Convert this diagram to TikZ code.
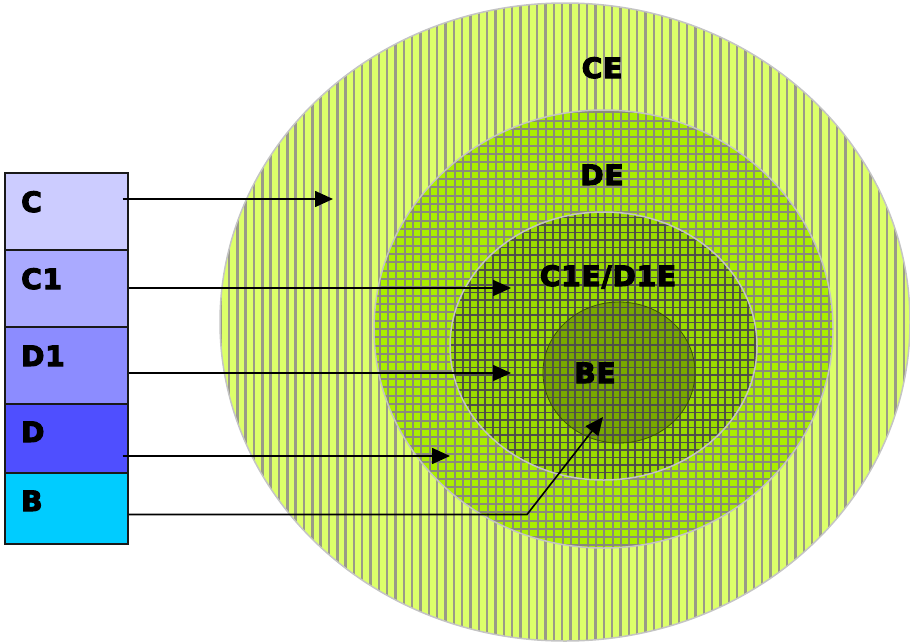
\documentclass[tikz,border=0pt]{standalone}
\usepackage{fontspec}
\setmainfont{DejaVu Sans}
\newfontfamily\lblfont{DejaVu Sans}[BoldFeatures={FakeBold=4},LetterSpace=3]
\usetikzlibrary{arrows.meta,calc}
\definecolor{cefill}{HTML}{DCFF6A}
\definecolor{cestripe}{HTML}{9A9A88}
\definecolor{defill}{HTML}{AAEE00}
\definecolor{degrid}{HTML}{8A8A7A}
\definecolor{c1fill}{HTML}{9ADC00}
\definecolor{c1grid}{HTML}{505048}
\definecolor{befill}{HTML}{78A800}
\definecolor{ringcol}{HTML}{C4C4C4}
\definecolor{colC}{HTML}{CCCCFF}
\definecolor{colCone}{HTML}{AAAAFF}
\definecolor{colDone}{HTML}{8C8CFF}
\definecolor{colD}{HTML}{4F4FFF}
\definecolor{colB}{HTML}{00CCFF}
\begin{document}
\begin{tikzpicture}[x=1pt,y=-1pt,
  box/.style={draw=black!90,line width=1.2pt,minimum width=123pt,inner sep=0pt},
  lbl/.style={font=\lblfont\bfseries\fontsize{28}{30}\selectfont,inner sep=0pt,text=black},
  ring/.style={draw=ringcol,line width=1.5pt},
  conn/.style={draw=black,line width=1.6pt,-{Triangle[length=18pt,width=16pt]}}]
\useasboundingbox (0,0) rectangle (910,643);
% CE
\begin{scope}
\clip (565,322) ellipse [x radius=345pt, y radius=319pt];
\fill[cefill] (565,322) ellipse [x radius=345pt, y radius=319pt];
\foreach \i in {-1,...,84} \fill[cestripe] ({254+(\i-4)*8.33-1.2},0) rectangle ++(2.4,643);
\end{scope}
\draw[ring] (565,322) ellipse [x radius=345pt, y radius=319pt];
% DE
\begin{scope}
\clip (603.5,329) ellipse [x radius=229.5pt, y radius=219pt];
\fill[defill] (603.5,329) ellipse [x radius=229.5pt, y radius=219pt];
\foreach \i in {0,...,57} \draw[degrid,line width=2pt] ({371.2+\i*8.33},100) -- ++(0,460);
\foreach \i in {0,...,55} \draw[degrid,line width=2pt] (370,{104+\i*8.33}) -- ++(470,0);
\end{scope}
\draw[ring] (603.5,329) ellipse [x radius=229.5pt, y radius=219pt];
% C1E and BE
\begin{scope}
\clip (603.5,346) ellipse [x radius=153.5pt, y radius=134pt];
\fill[c1fill] (603.5,346) ellipse [x radius=153.5pt, y radius=134pt];
\fill[befill] (619,372.5) ellipse [x radius=76pt, y radius=70.5pt];
\foreach \i in {0,...,43} \draw[c1grid,line width=1.8pt] ({447.7+\i*7.5},205) -- ++(0,285);
\foreach \i in {0,...,38} \draw[c1grid,line width=1.8pt] (445,{210+\i*7.5}) -- ++(320,0);
\end{scope}
\draw[draw=black!50!befill,line width=0.8pt] (619,372.5) ellipse [x radius=76pt, y radius=70.5pt];
\draw[ring] (603.5,346) ellipse [x radius=153.5pt, y radius=134pt];
% region labels
\node[lbl,anchor=base] (tCE) at (602,78) {CE};
\node[lbl,anchor=base] (tDE) at (602,185) {DE};
\node[lbl,anchor=base] (tC1E) at (608,286) {C1E/D1E};
\node[lbl,anchor=base] (tBE) at (595,383) {BE};
% boxes
\node[box,fill=colC,minimum height=77pt] (bxC) at (66.5,211.5) {};
\node[box,fill=colCone,minimum height=77pt] (bxCone) at (66.5,288.5) {};
\node[box,fill=colDone,minimum height=77pt] (bxDone) at (66.5,365.5) {};
\node[box,fill=colD,minimum height=69pt] (bxD) at (66.5,438.5) {};
\node[box,fill=colB,minimum height=71pt] (bxB) at (66.5,508.5) {};
\node[lbl,anchor=base west] (lC) at (21,212) {C};
\node[lbl,anchor=base west] (lCone) at (21,289) {C1};
\node[lbl,anchor=base west] (lDone) at (21,366) {D1};
\node[lbl,anchor=base west] (lD) at (21,442) {D};
\node[lbl,anchor=base west] (lB) at (21,511) {B};
% arrow ends
\coordinate (tipC) at (333,199);
\coordinate (tipCone) at (511,288);
\coordinate (tipDone) at (511,373);
\coordinate (tipD) at (450,456);
\coordinate (bendB) at (527,514.5);
\coordinate (tipB) at (603,417);
\draw[conn] ($(bxC.east|-tipC)+(-6,0)$) -- (tipC);
\draw[conn] (bxCone.east|-tipCone) -- (tipCone);
\draw[conn] (bxDone.east|-tipDone) -- (tipDone);
\draw[conn] ($(bxD.east|-tipD)+(-6,0)$) -- (tipD);
\draw[conn] (bxB.east|-bendB) -- (bendB) -- (tipB);
\end{tikzpicture}
\end{document}
